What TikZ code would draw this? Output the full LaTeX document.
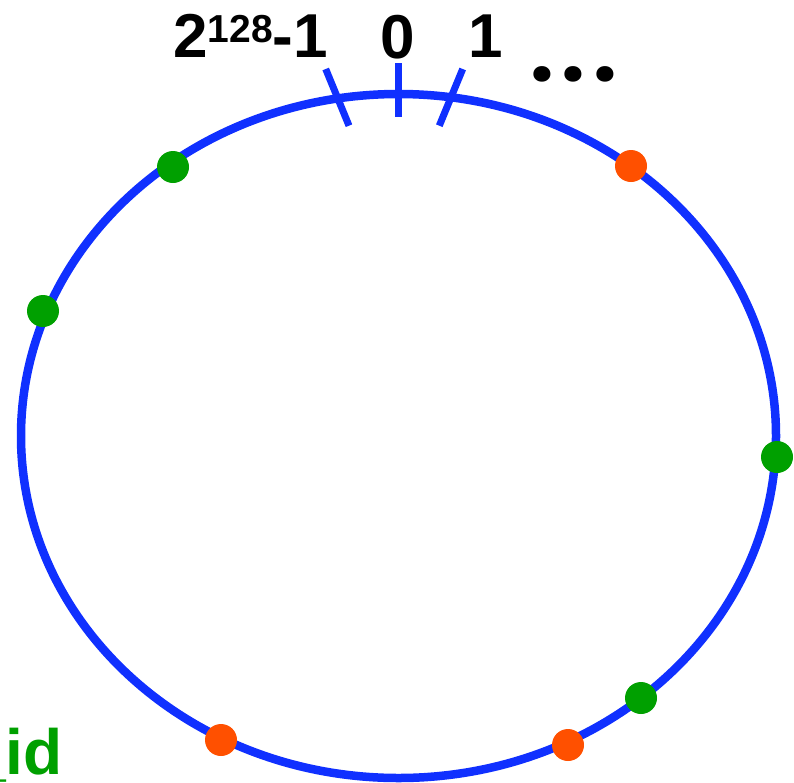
\documentclass[tikz,border=0pt]{standalone}
\usepackage{fontspec}
\setmainfont{Liberation Sans}
\newfontfamily\dotfont{Poppins}
\definecolor{ringblue}{HTML}{1030FF}
\definecolor{nodegreen}{HTML}{00A000}
\definecolor{keyred}{HTML}{FF5000}
\begin{document}
\begin{tikzpicture}[x=1pt,y=-1pt,
  ring/.style={draw=ringblue, line width=8.5pt},
  tickmark/.style={draw=ringblue, line width=7pt},
  member/.style={circle, fill=#1, inner sep=0pt, minimum size=32pt},
  numlabel/.style={inner sep=0pt, font=\bfseries\fontsize{62}{62}\selectfont}]
\useasboundingbox (0,0) rectangle (794,782);
% the hash ring
\draw[ring] (398.5,436) ellipse [x radius=377.5, y radius=342];
\draw[tickmark] (325.7,69) -- (349,125.7);
\draw[tickmark] (398,63) -- (398,117);
\draw[tickmark] (462.7,69) -- (439.3,125.7);
% positions on the ring
\node[numlabel, anchor=base west] (last) at (173,57) {2\raisebox{15pt}{\fontsize{39}{39}\selectfont 128}-1};
\node[numlabel, anchor=base] (zero) at (398,58) {0};
\node[numlabel, anchor=base] (one) at (486,57) {1};
\node[inner sep=0pt, anchor=base west, font=\dotfont\bfseries\fontsize{84}{84}\selectfont] (more) at (530,81) {.\kern8pt.\kern8pt.};
% nodes and keys
\node[member=nodegreen] (g1) at (173,167) {};
\node[member=nodegreen] (g2) at (43,311) {};
\node[member=nodegreen] (g3) at (777,457) {};
\node[member=nodegreen] (g4) at (641,698) {};
\node[member=keyred] (k1) at (631,166) {};
\node[member=keyred] (k2) at (221,740) {};
\node[member=keyred] (k3) at (568,745) {};
\node[inner sep=0pt, anchor=base east, text=nodegreen, font=\bfseries\fontsize{64}{64}\selectfont] (id) at (63,774) {\_id};
\end{tikzpicture}
\end{document}
